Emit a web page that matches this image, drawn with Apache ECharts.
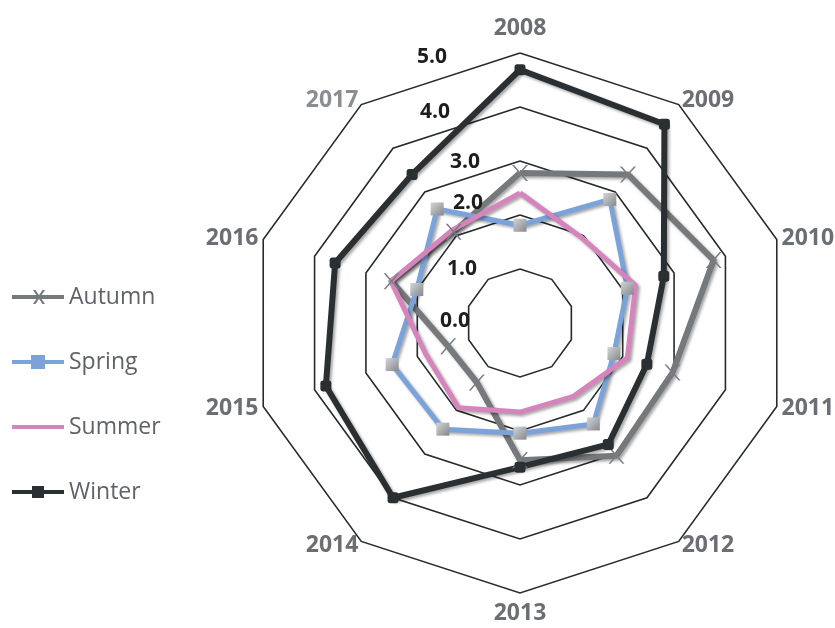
<!DOCTYPE html>
<html>
<head>
<meta charset="utf-8">
<title>Seasons radar</title>
<script src="https://cdn.jsdelivr.net/npm/echarts@6/dist/echarts.min.js"></script>
<style>
  html, body { margin: 0; padding: 0; background: #fff; }
  #chart { width: 835px; height: 628px; }
</style>
</head>
<body>
<div id="chart"></div>
<script>
// values (clockwise from the top)
const years = ['2008', '2009', '2010', '2011', '2012', '2013', '2014', '2015', '2016', '2017'];
const autumn = [2.78, 3.40, 3.77, 2.97, 3.04, 2.54, 1.36, 1.40, 2.50, 2.09];
const spring = [1.81, 2.83, 2.09, 1.83, 2.31, 2.04, 2.43, 2.49, 2.01, 2.61];
const summer = [2.41, 1.95, 2.25, 2.09, 1.68, 1.65, 1.94, 1.84, 2.51, 2.13];
const winter = [4.69, 4.55, 2.80, 2.47, 2.78, 2.67, 4.00, 3.78, 3.60, 3.40];
const seasons = ['Autumn', 'Spring', 'Summer', 'Winter'];
const tickLabels = ['0.0', '1.0', '2.0', '3.0', '4.0', '5.0'];

// echarts lays radar axes out counter-clockwise, the picture goes clockwise
const order = [0, 9, 8, 7, 6, 5, 4, 3, 2, 1];
const pick = arr => order.map(i => arr[i]);

const shadow = {
  shadowColor: 'rgba(0,0,0,0.35)',
  shadowBlur: 3,
  shadowOffsetX: 2,
  shadowOffsetY: 2
};
const xMark = 'path://M0,0 L2,0 L16,16 L14,16 Z M14,0 L16,0 L2,16 L0,16 Z';

// per tick label nudges [right pad, top pad, bottom pad]
const tickNudge = [[13, 0, 4], [6, 0, 0], [0, 0, 24], [3, 2, 0], [33, 10, 0], [36, 8, 0]];
const tickRich = {};
tickLabels.forEach((t, i) => {
  tickRich['t' + i] = {
    fontFamily: 'Open Sans',
    fontSize: 21,
    fontWeight: 'bold',
    color: '#1d1d1d',
    padding: [tickNudge[i][1], tickNudge[i][0], tickNudge[i][2], 0]
  };
});

const nameFont = { fontFamily: 'Noto Sans', fontSize: 23, fontWeight: 'bold', color: '#6b6f73' };

const chart = echarts.init(document.getElementById('chart'));
const option = {
  animation: false,
  legend: {
    orient: 'vertical',
    left: 7,
    top: 280,
    itemWidth: 52,
    itemHeight: 14,
    itemGap: 41,
    textStyle: { fontFamily: 'Open Sans', fontSize: 23, color: '#5f6368', lineHeight: 24 },
    data: [
      { name: 'Autumn', icon: 'path://M0,5 L52,5 L52,9 L0,9 Z M21,0 L23.5,0 L33,14 L30.5,14 Z M30.5,0 L33,0 L23.5,14 L21,14 Z', itemStyle: { color: '#76797c' } },
      { name: 'Spring', icon: 'path://M0,5 L52,5 L52,9 L0,9 Z M19,0 L33,0 L33,14 L19,14 Z', itemStyle: { color: '#7ba3da' } },
      { name: 'Summer', icon: 'path://M0,5 L52,5 L52,9 L0,9 Z M26,0 L26.05,0 L26,0.05 Z M26,14 L26.05,14 L26,13.95 Z', itemStyle: { color: '#d685bc' } },
      { name: 'Winter', icon: 'path://M0,5 L52,5 L52,9 L0,9 Z M20,1 L32,1 L32,13 L20,13 Z', itemStyle: { color: '#2a3032' } }
    ]
  },
  radar: {
    center: [520, 323],
    radius: 270,
    shape: 'polygon',
    splitNumber: 5,
    axisNameGap: 5,
    indicator: pick(years).map(name => ({ name: name, min: 0, max: 5 })),
    axisName: Object.assign({}, nameFont, {
      formatter: function (name) {
        if (name === '2008') return '{top|' + name + '}';
        if (name === '2013') return '{bottom|' + name + '}';
        if (name === '2017') return '{light|' + name + '}';
        return name;
      },
      rich: {
        top: Object.assign({}, nameFont, { padding: [0, 0, 8, 0] }),
        bottom: Object.assign({}, nameFont, { padding: [4, 0, 0, 0] }),
        light: Object.assign({}, nameFont, { color: '#8a8e92' })
      }
    }),
    splitLine: { lineStyle: { color: '#262b2c', width: 1.6 } },
    splitArea: { show: false },
    axisLine: { show: false },
    axisTick: { show: false },
    axisLabel: { show: false }
  },
  // a bare value axis carries the 0.0 - 5.0 labels beside the top spoke
  grid: { left: 483, top: 53, width: 10, height: 270 },
  xAxis: { type: 'value', show: false },
  yAxis: {
    type: 'value',
    min: 0,
    max: 5,
    interval: 1,
    z: 10,
    axisLine: { show: false },
    axisTick: { show: false },
    splitLine: { show: false },
    axisLabel: {
      margin: 0,
      formatter: function (v) { return '{t' + v + '|' + tickLabels[v] + '}'; },
      rich: tickRich
    }
  },
  series: [{
    type: 'radar',
    data: [
      {
        name: seasons[0],
        value: pick(autumn),
        symbol: xMark,
        symbolSize: 16,
        itemStyle: { color: '#7a7d80' },
        lineStyle: Object.assign({ color: '#76797c', width: 6 }, shadow)
      },
      {
        name: seasons[1],
        value: pick(spring),
        symbol: 'rect',
        symbolSize: 13,
        itemStyle: {
          color: new echarts.graphic.LinearGradient(0, 0, 1, 1, [
            { offset: 0, color: '#d3d5d7' },
            { offset: 1, color: '#85888b' }
          ])
        },
        lineStyle: Object.assign({ color: '#7ba3da', width: 5 }, shadow)
      },
      {
        name: seasons[2],
        value: pick(summer),
        symbol: 'none',
        itemStyle: { color: '#d685bc' },
        lineStyle: Object.assign({ color: '#d685bc', width: 5 }, shadow)
      },
      {
        name: seasons[3],
        value: pick(winter),
        symbol: 'roundRect',
        symbolSize: 11,
        itemStyle: { color: '#2a3032' },
        lineStyle: Object.assign({ color: '#2a3032', width: 6 }, shadow)
      }
    ]
  }]
};
chart.setOption(option);
window.addEventListener('resize', function () {
  chart.resize();
});
</script>
</body>
</html>
